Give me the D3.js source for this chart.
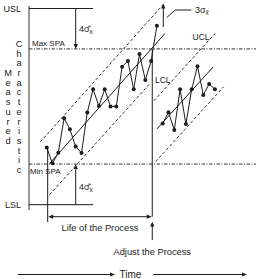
<!DOCTYPE html>
<html><head><meta charset="utf-8">
<script src="https://cdn.jsdelivr.net/npm/d3@7"></script>
<style>html,body{margin:0;padding:0;background:#fff;} svg{display:block;font-family:"Liberation Sans",Arial,Helvetica,sans-serif;}</style>
</head><body><svg id="c" width="256" height="279"></svg>
<script>
// ---------- data ----------
const seg1Time  = [0,1,2,3,4,5,6,7,8,9,10,11,12,13,14,15,16,17,18,19];
const seg1Value = [29.2,21.1,26.5,44.0,38.4,29.6,26.4,47.0,58.8,50.3,58.8,50.1,50.1,70.3,73.2,58.8,76.8,63.6,73.2,91.2];
const seg2Time  = [20,21,22,23,24,25,26,27,28,29];
const seg2Value = [41.4,47.1,38.1,58.8,41.1,58.8,70.6,55.9,61.5,58.8];
const specLabels = ["USL","Max SPA","Min SPA","LSL"];
const specValues = [100,79.4,20.7,0];
// straight reference lines as [time, value] end points
const trend1 = [[0.5,21.0],[20.4,87.3]];
const ucl1   = [[-1.1,32.0],[20.47,103.3]];
const lcl1   = [[0.5,5.1],[17.81,61.8]];
const trend2 = [[19.0,38.6],[28.7,70.2]];
const ucl2   = [[18.5,53.0],[29.0,87.2]];
const lcl2   = [[18.8,22.0],[30.5,60.1]];
const lifeStartT = 0.17, adjustT = 18.2, sigmaArrowT = 5.0, threeSigmaT = 20.1, specLineEndT = 8.0;
const yLetters1 = "Measured".split("");
const yLetters2 = "Characteristic".split("");

// ---------- drawing ----------
const svg = d3.select("#c");
const INK = "#1b1b1b";
const x = d3.scaleLinear().domain([0,29]).range([46.7,214.9]);
const y = d3.scaleLinear().domain([0,100]).range([204.7,8.5]);
const axisX = 29;
const val = l => specValues[specLabels.indexOf(l)];

function head(px,py,dir){
  const L=5,w=2.1; let p;
  if(dir==="up") p=[[px,py],[px-w,py+L],[px+w,py+L]];
  if(dir==="down") p=[[px,py],[px-w,py-L],[px+w,py-L]];
  if(dir==="left") p=[[px,py],[px+L,py-w],[px+L,py+w]];
  if(dir==="right") p=[[px,py],[px-L,py-w],[px-L,py+w]];
  svg.append("path").attr("d","M"+p.map(d=>d.join(",")).join("L")+"Z").attr("fill",INK);
}
function seg(x1,y1,x2,y2,opts={}){
  const l=svg.append("line").attr("x1",x1).attr("y1",y1).attr("x2",x2).attr("y2",y2)
    .attr("stroke",opts.color||INK).attr("stroke-width",opts.w||1);
  if(opts.dash) l.attr("stroke-dasharray",opts.dash);
  return l;
}
function txt(s,px,py,size,anchor="start"){
  return svg.append("text").attr("x",px).attr("y",py).attr("font-size",size).attr("text-anchor",anchor).attr("fill",INK).text(s);
}

// frame axis
seg(axisX,6,axisX,210,{color:"#333"});
// USL / LSL
seg(axisX,y(val("USL")),x(specLineEndT),y(val("USL")));
seg(axisX,y(val("LSL")),x(specLineEndT),y(val("LSL")));
txt("USL",21,y(val("USL"))+3.2,9,"end");
txt("LSL",21,y(val("LSL"))+3.2,9,"end");
// SPA dash-dot lines
seg(axisX,y(val("Max SPA")),256,y(val("Max SPA")),{dash:"3.5,1.5,1,1.5",color:"#333"});
seg(axisX,y(val("Min SPA")),256,y(val("Min SPA")),{dash:"3.5,1.5,1,1.5",color:"#333"});
txt("Max SPA",32,y(val("Max SPA"))-3,8);
txt("Min SPA",30,y(val("Min SPA"))+9.5,8);

// 4 sigma arrows
const sx = x(sigmaArrowT);
seg(sx,y(val("USL")),sx,y(val("Max SPA"))-4);
head(sx,y(val("Max SPA")),"down");
seg(sx,y(val("LSL")),sx,y(val("Min SPA"))+4);
head(sx,y(val("Min SPA")),"up");
function sigmaHat(px,py){
  const t=svg.append("text").attr("x",px).attr("y",py).attr("font-size",9).attr("fill",INK);
  t.append("tspan").text("4σ\u0302");
  t.append("tspan").attr("font-size",6.5).attr("dy",2).text("x");
}
sigmaHat(79,31.7);
sigmaHat(79,190);

// dashed control limits
const dash = "3,2.2";
[ucl1,lcl1,ucl2,lcl2].forEach(l=>seg(x(l[0][0]),y(l[0][1]),x(l[1][0]),y(l[1][1]),{dash:dash,color:"#333"}));
// trend lines
[trend1,trend2].forEach(l=>seg(x(l[0][0]),y(l[0][1]),x(l[1][0]),y(l[1][1])));

// data series
const line = d3.line().x(d=>x(d[0])).y(d=>y(d[1]));
[[seg1Time,seg1Value],[seg2Time,seg2Value]].forEach(([ts,vs])=>{
  const pts = ts.map((t,i)=>[t,vs[i]]);
  svg.append("path").attr("d",line(pts)).attr("fill","none").attr("stroke",INK).attr("stroke-width",1);
  svg.selectAll(null).data(pts).enter().append("circle")
    .attr("cx",d=>x(d[0])).attr("cy",d=>y(d[1])).attr("r",2).attr("fill",INK);
});

// 3 sigma arrow
const tx = x(threeSigmaT);
seg(tx,27,tx,8);
head(tx,3.5,"up");
svg.append("polyline").attr("points",`${tx+3.5},17.5 ${tx+12},10 ${tx+28},10`).attr("fill","none").attr("stroke",INK);
const t3=svg.append("text").attr("x",195).attr("y",13).attr("font-size",9).attr("fill",INK);
t3.append("tspan").text("3σ");
t3.append("tspan").attr("font-size",6.5).attr("dy",2).text("x\u0304");

txt("UCL",192.5,39.5,8.5);
txt("LCL",155,82.7,8.5);

// life of process
const lx1 = x(lifeStartT), lx2 = x(adjustT);
seg(lx1,y(seg1Value[0]),lx1,222);
seg(lx2,y(val("Max SPA")),lx2,216.7);
seg(lx1+4,216.7,lx2-4,216.7);
head(lx1+0.5,216.7,"left");
head(lx2-0.5,216.7,"right");
txt("Life of the Process",(lx1+lx2)/2,231,9.3,"middle");
// adjust
seg(lx2,240,lx2,226);
head(lx2,221.5,"up");
txt("Adjust the Process",lx2,255,9.3,"middle");
// time
txt("Time",130.5,277.5,10,"middle");
seg(18,274.5,110,274.5); head(115,274.5,"right");
seg(153,274.5,242,274.5); head(247,274.5,"right");

// vertical y labels
yLetters2.forEach((c,i)=>txt(c,19,46.8+i*9.72,9.3,"middle"));
yLetters1.forEach((c,i)=>txt(c,8,46.8+(i+3)*9.72,9.3,"middle"));
</script></body></html>
